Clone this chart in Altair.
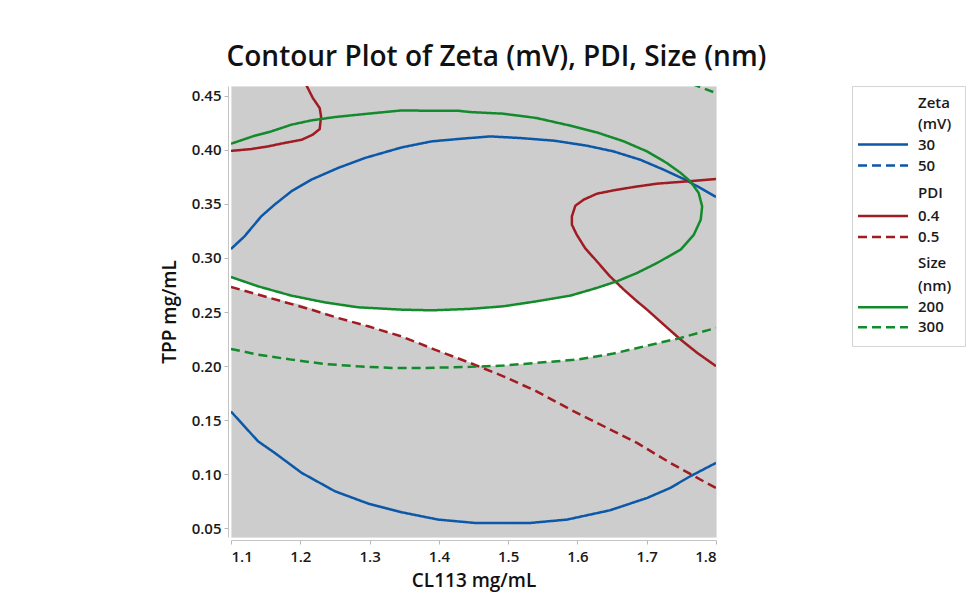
import altair as alt
import pandas as pd

# ---- contour traces (CL113 mg/mL on x, TPP mg/mL on y) ----
zeta30_upper_x = [1.100, 1.1195, 1.1437, 1.1629, 1.1871, 1.216, 1.2545, 1.2931, 1.3462, 1.3896, 1.428,
                  1.4739, 1.5173, 1.567, 1.6137, 1.6522, 1.6908, 1.7245, 1.7534, 1.7776, 1.800]
zeta30_upper_y = [0.3083, 0.320, 0.3385, 0.3493, 0.3616, 0.3724, 0.3832, 0.3924, 0.4022, 0.4078, 0.410,
                  0.4124, 0.4109, 0.4084, 0.4038, 0.3985, 0.3908, 0.3816, 0.373, 0.3647, 0.3564]

zeta30_lower_x = [1.100, 1.139, 1.163, 1.202, 1.250, 1.298, 1.346, 1.399, 1.452, 1.532, 1.585,
                  1.647, 1.701, 1.734, 1.763, 1.800]
zeta30_lower_y = [0.158, 0.1305, 0.1198, 0.1013, 0.0843, 0.0729, 0.0649, 0.0581, 0.055, 0.055, 0.0581,
                  0.0667, 0.0782, 0.0874, 0.0982, 0.1105]

pdi04_left_x = [1.207, 1.218, 1.228, 1.230, 1.228, 1.218, 1.202, 1.177, 1.153, 1.129, 1.100]
pdi04_left_y = [0.462, 0.448, 0.4386, 0.4309, 0.4192, 0.414, 0.4093, 0.4063, 0.4031, 0.4007, 0.399]

pdi04_right_x = [1.800, 1.758, 1.715, 1.681, 1.652, 1.628, 1.609, 1.597, 1.592, 1.592, 1.599,
                 1.611, 1.628, 1.647, 1.667, 1.686, 1.7005, 1.7245, 1.749, 1.773, 1.800]
pdi04_right_y = [0.373, 0.3708, 0.3687, 0.3656, 0.3625, 0.3594, 0.3539, 0.3483, 0.3385, 0.3308, 0.3215,
                 0.3092, 0.2969, 0.283, 0.2707, 0.2599, 0.2522, 0.2384, 0.2245, 0.2122, 0.200]

pdi05_x = [1.100, 1.216, 1.2545, 1.298, 1.346, 1.394, 1.445, 1.493, 1.541, 1.590, 1.638,
           1.686, 1.734, 1.782, 1.800]
pdi05_y = [0.2732, 0.2522, 0.2445, 0.2368, 0.2275, 0.2153, 0.203, 0.1906, 0.1767, 0.1598, 0.1444,
           0.129, 0.1105, 0.0935, 0.0874]

size200_x = [1.100, 1.134, 1.158, 1.187, 1.216, 1.250, 1.293, 1.346, 1.390, 1.428,
             1.445, 1.493, 1.541, 1.590, 1.628, 1.667, 1.7005, 1.729, 1.749, 1.763,
             1.775, 1.780, 1.778, 1.768, 1.749, 1.715, 1.686, 1.657, 1.628, 1.590,
             1.541, 1.493, 1.445, 1.390, 1.346, 1.283, 1.235, 1.187, 1.139, 1.100]
size200_y = [0.4056, 0.413, 0.417, 0.4232, 0.4272, 0.4303, 0.4331, 0.4364, 0.4361, 0.4361,
             0.4349, 0.4334, 0.4294, 0.4223, 0.4161, 0.4078, 0.3985, 0.3878, 0.3786, 0.3708,
             0.3601, 0.3477, 0.3354, 0.3215, 0.3077, 0.2954, 0.2861, 0.2784, 0.2723, 0.2652,
             0.2599, 0.2553, 0.2529, 0.2516, 0.2522, 0.2544, 0.259, 0.2652, 0.2738, 0.2824]

size300_x = [1.100, 1.139, 1.187, 1.235, 1.283, 1.332, 1.380, 1.445, 1.493, 1.541, 1.599,
             1.652, 1.7005, 1.749, 1.800]
size300_y = [0.2159, 0.2106, 0.206, 0.202, 0.1998, 0.1983, 0.1983, 0.1993, 0.2005, 0.203, 0.206,
             0.2116, 0.2189, 0.2261, 0.2353]

size300_corner_x = [1.765, 1.800]
size300_corner_y = [0.461, 0.4525]

# ---- feasible (white) region: upper and lower bounds along CL113 ----
region_x = [1.10, 1.15, 1.20, 1.25, 1.30, 1.35, 1.40, 1.459, 1.50, 1.55, 1.60, 1.655, 1.70, 1.746]
region_top = [0.2824, 0.2718, 0.2635, 0.2576, 0.2538, 0.2521, 0.2517, 0.2536, 0.2560, 0.2609,
              0.2671, 0.2780, 0.2525, 0.2257]
region_bottom = [0.2732, 0.2641, 0.2569, 0.2454, 0.2364, 0.2265, 0.2139, 0.1998, 0.2009, 0.2035,
                 0.2061, 0.2118, 0.2188, 0.2257]

# ---- legend entries ----
legend_labels = ["Zeta", "(mV)", "30", "50", "PDI", "0.4", "0.5", "Size", "(nm)", "200", "300"]
legend_series = ["", "", "Zeta", "Zeta", "", "PDI", "PDI", "", "", "Size", "Size"]
legend_style = ["", "", "solid", "dashed", "", "solid", "dashed", "", "", "solid", "dashed"]
legend_slot = [0, 1, 2, 3, 4.3, 5.4, 6.4, 7.65, 8.75, 9.75, 10.7]

BLUE = "#0b57a8"
RED = "#a11c22"
GREEN = "#138a2c"
PLOT_BG = "#cdcdcd"
FONT = "Open Sans"

curves = [
    ("zeta30_upper", "Zeta", "solid", zeta30_upper_x, zeta30_upper_y),
    ("zeta30_lower", "Zeta", "solid", zeta30_lower_x, zeta30_lower_y),
    ("pdi04_left", "PDI", "solid", pdi04_left_x, pdi04_left_y),
    ("pdi04_right", "PDI", "solid", pdi04_right_x, pdi04_right_y),
    ("pdi05", "PDI", "dashed", pdi05_x, pdi05_y),
    ("size200", "Size", "solid", size200_x, size200_y),
    ("size300", "Size", "dashed", size300_x, size300_y),
    ("size300_corner", "Size", "dashed", size300_corner_x, size300_corner_y),
]
rows = []
for cid, series, style, xs, ys in curves:
    for i, (xv, yv) in enumerate(zip(xs, ys)):
        rows.append({"curve": cid, "series": series, "style": style, "order": i, "x": xv, "y": yv})
lines_df = pd.DataFrame(rows)

region_df = pd.DataFrame({"x": region_x, "top": region_top, "bottom": region_bottom})

x_scale = alt.Scale(domain=[1.1, 1.8], nice=False, zero=False)
y_scale = alt.Scale(domain=[0.042, 0.459], nice=False, zero=False)

color_scale = alt.Scale(domain=["Zeta", "PDI", "Size"], range=[BLUE, RED, GREEN])
dash_scale = alt.Scale(domain=["solid", "dashed"], range=[[1, 0], [9, 5]])

axis_common = dict(
    labelFont=FONT, labelFontSize=15, labelColor="#1a1a1a", labelFontWeight=600,
    titleFont=FONT, titleFontSize=19, titleColor="#111111", titleFontWeight=600,
    domainColor="#c4c4c4", tickColor="#b8b8b8", tickSize=4, grid=False, offset=3,
)

region = alt.Chart(region_df).mark_area(color="white", opacity=1, interpolate="linear").encode(
    x=alt.X("x:Q", scale=x_scale, title="CL113 mg/mL",
            axis=alt.Axis(values=[1.1, 1.2, 1.3, 1.4, 1.5, 1.6, 1.7, 1.8], format=".1f",
                          labelPadding=5, titlePadding=7, **axis_common)),
    y=alt.Y("top:Q", scale=y_scale, title="TPP mg/mL",
            axis=alt.Axis(values=[0.05, 0.10, 0.15, 0.20, 0.25, 0.30, 0.35, 0.40, 0.45], format=".2f",
                          labelPadding=3, titlePadding=12, **axis_common)),
    y2="bottom:Q",
)

lines = alt.Chart(lines_df).mark_line(strokeWidth=2.5, clip=True).encode(
    x=alt.X("x:Q", scale=x_scale),
    y=alt.Y("y:Q", scale=y_scale),
    color=alt.Color("series:N", scale=color_scale, legend=None),
    strokeDash=alt.StrokeDash("style:N", scale=dash_scale, legend=None),
    detail="curve:N",
    order="order:Q",
)

main = alt.layer(region, lines).properties(
    width=485, height=451,
    view=alt.ViewBackground(fill=PLOT_BG, stroke="#e2e2e2", strokeWidth=1),
    title=alt.TitleParams("Contour Plot of Zeta (mV), PDI, Size (nm)", font=FONT, fontSize=28,
                          fontWeight=600, color="#111111", anchor="middle", dx=23, offset=14),
)

legend_df = pd.DataFrame({"label": legend_labels, "series": legend_series,
                          "style": legend_style, "slot": legend_slot})
leg_y = alt.Y("slot:Q", scale=alt.Scale(domain=[-0.79, 11.59], reverse=True, nice=False, zero=False),
              axis=None)

legend_text = alt.Chart(legend_df).mark_text(
    align="left", baseline="middle", font=FONT, fontSize=15, fontWeight=600, color="#1a1a1a"
).encode(x=alt.value(66), y=leg_y, text="label:N")

legend_lines = alt.Chart(legend_df).transform_filter(alt.datum.style != "").mark_rule(strokeWidth=2.5).encode(
    x=alt.value(6), x2=alt.value(56), y=leg_y,
    color=alt.Color("series:N", scale=color_scale, legend=None),
    strokeDash=alt.StrokeDash("style:N", scale=dash_scale, legend=None),
)

legend_panel = alt.layer(legend_lines, legend_text).properties(
    width=113, height=260,
    view=alt.ViewBackground(fill="white", stroke="#d4d4d4", strokeWidth=1),
)

chart = alt.hconcat(main, legend_panel, spacing=136, bounds="flush").properties(
    padding={"left": 159, "top": 43, "right": 5, "bottom": 5},
    background="white",
).configure_view(strokeWidth=1)

chart.save("out.html", embed_options={"renderer": "svg", "actions": False})
